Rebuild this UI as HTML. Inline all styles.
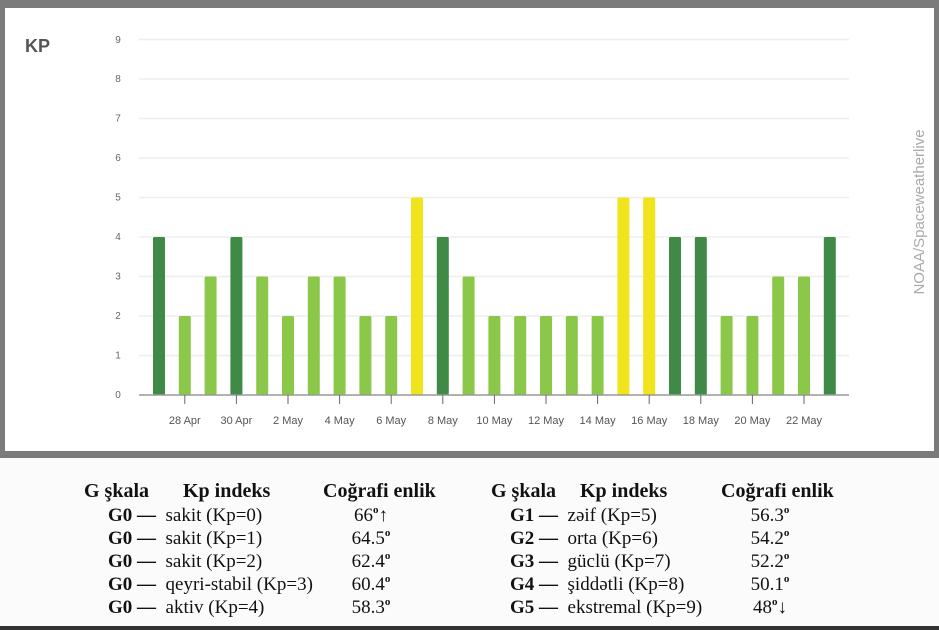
<!DOCTYPE html>
<html><head><meta charset="utf-8"><style>
body{margin:0;width:939px;height:630px;background:#7b7b7b;position:relative;overflow:hidden;font-family:"Liberation Sans",sans-serif}
#panel{position:absolute;left:5px;top:8px;width:929px;height:443px;background:#fff}
#bottom{position:absolute;left:0;top:458px;width:939px;height:168px;background:#fbfbfb}
#bline{position:absolute;left:0;top:626px;width:939px;height:4px;background:#333}
.t{position:absolute;font-family:"Liberation Serif",serif;font-size:19px;color:#111;white-space:nowrap;line-height:23px}
.h{font-size:20px;font-weight:bold;line-height:23px}
.s{font-size:11px;line-height:0;position:relative;top:-8px;font-weight:bold}
</style></head><body>
<div id="panel"></div>
<div id="bottom"></div>
<div id="bline"></div>
<svg width="939" height="630" style="position:absolute;left:0;top:0">
<text x="25" y="52" font-size="18" font-weight="bold" fill="#555" font-family="Liberation Sans">KP</text>
<g font-size="10" fill="#666" font-family="Liberation Sans" text-anchor="middle">
<text x="118" y="398">0</text><text x="118" y="358.5">1</text><text x="118" y="319">2</text><text x="118" y="279.5">3</text><text x="118" y="240">4</text><text x="118" y="200.5">5</text><text x="118" y="161">6</text><text x="118" y="121.5">7</text><text x="118" y="82">8</text><text x="118" y="43">9</text>
</g>
<g stroke="#eee" stroke-width="1.5">
<line x1="139" x2="849" y1="355.5" y2="355.5"/><line x1="139" x2="849" y1="316" y2="316"/><line x1="139" x2="849" y1="276.5" y2="276.5"/><line x1="139" x2="849" y1="237" y2="237"/><line x1="139" x2="849" y1="197.5" y2="197.5"/><line x1="139" x2="849" y1="158" y2="158"/><line x1="139" x2="849" y1="118.5" y2="118.5"/><line x1="139" x2="849" y1="79" y2="79"/><line x1="139" x2="849" y1="39.5" y2="39.5"/>
</g>
<g id="bars"></g>
<line x1="139" x2="849" y1="395" y2="395" stroke="#999" stroke-width="1.5"/>
<g id="ticks" stroke="#666" stroke-width="1"></g>
<g id="lbl" font-size="11" fill="#555" font-family="Liberation Sans" text-anchor="middle"></g>
<text transform="translate(924,212) rotate(-90)" font-size="15" fill="#aaa" text-anchor="middle" font-family="Liberation Sans">NOAA/Spaceweatherlive</text>
</svg>
<script>
var v=[4,2,3,4,3,2,3,3,2,2,5,4,3,2,2,2,2,2,5,5,4,4,2,2,3,3,4];
var ns="http://www.w3.org/2000/svg",g=document.getElementById('bars'),tk=document.getElementById('ticks'),lb=document.getElementById('lbl');
var labs=["28 Apr","30 Apr","2 May","4 May","6 May","8 May","10 May","12 May","14 May","16 May","18 May","20 May","22 May"];
v.forEach(function(val,i){var cx=159+i*25.8;var r=document.createElementNS(ns,'rect');var h=val*39.5;
r.setAttribute('x',cx-6);r.setAttribute('y',395-h);r.setAttribute('width',12);r.setAttribute('height',h);r.setAttribute('rx',1.5);
r.setAttribute('fill',val>=5?'#f0e41c':val==4?'#3f8a46':'#8bc84a');g.appendChild(r);
if(i%2==1){var l=document.createElementNS(ns,'line');l.setAttribute('x1',cx);l.setAttribute('x2',cx);l.setAttribute('y1',395);l.setAttribute('y2',404);tk.appendChild(l);
var t=document.createElementNS(ns,'text');t.setAttribute('x',cx);t.setAttribute('y',424);t.textContent=labs[(i-1)/2];lb.appendChild(t);}});
</script>
<div class="t h" style="left:84px;top:480px">G şkala</div>
<div class="t h" style="left:183px;top:480px">Kp indeks</div>
<div class="t h" style="left:323px;top:480px">Coğrafi enlik</div>
<div class="t" style="left:108px;top:504px"><b>G0 —</b>&nbsp; sakit (Kp=0)<br><b>G0 —</b>&nbsp; sakit (Kp=1)<br><b>G0 —</b>&nbsp; sakit (Kp=2)<br><b>G0 —</b>&nbsp; qeyri-stabil (Kp=3)<br><b>G0 —</b>&nbsp; aktiv (Kp=4)</div>
<div class="t" style="left:341px;top:504px;text-align:center;width:60px">66<span class="s">o</span>↑<br>64.5<span class="s">o</span><br>62.4<span class="s">o</span><br>60.4<span class="s">o</span><br>58.3<span class="s">o</span></div>
<div class="t h" style="left:491px;top:480px">G şkala</div>
<div class="t h" style="left:580px;top:480px">Kp indeks</div>
<div class="t h" style="left:721px;top:480px">Coğrafi enlik</div>
<div class="t" style="left:510px;top:504px"><b>G1 —</b>&nbsp; zəif (Kp=5)<br><b>G2 —</b>&nbsp; orta (Kp=6)<br><b>G3 —</b>&nbsp; güclü (Kp=7)<br><b>G4 —</b>&nbsp; şiddətli (Kp=8)<br><b>G5 —</b>&nbsp; ekstremal (Kp=9)</div>
<div class="t" style="left:740px;top:504px;text-align:center;width:60px">56.3<span class="s">o</span><br>54.2<span class="s">o</span><br>52.2<span class="s">o</span><br>50.1<span class="s">o</span><br>48<span class="s">o</span>↓</div>
</body></html>
